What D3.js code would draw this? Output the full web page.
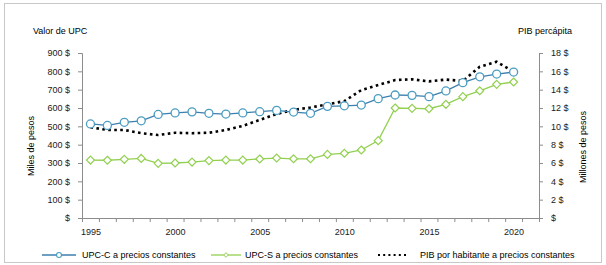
<!DOCTYPE html>
<html>
<head>
<meta charset="utf-8">
<script src="https://cdn.jsdelivr.net/npm/d3@7"></script>
<style>
  body { margin: 0; background: #fff; }
  text { font-family: "Liberation Sans", Arial, sans-serif; }
</style>
</head>
<body>
<div id="chart"></div>
<script>
// data
var years = [1995, 1996, 1997, 1998, 1999, 2000, 2001, 2002, 2003, 2004, 2005, 2006, 2007,
  2008, 2009, 2010, 2011, 2012, 2013, 2014, 2015, 2016, 2017, 2018, 2019, 2020]
var upcC = [513, 505, 522, 530, 565, 573, 579, 571, 567, 573, 580, 587, 578,
  571, 609, 612, 616, 651, 671, 669, 662, 693, 738, 770, 785, 796]
var upcS = [316, 315, 320, 325, 298, 300, 305, 313, 316, 316, 322, 327, 323,
  323, 347, 353, 371, 422, 600, 598, 596, 620, 662, 694, 729, 742]
var pib = [9.9, 9.6, 9.6, 9.25, 9.05, 9.3, 9.25, 9.3, 9.6, 10.05, 10.7, 11.35, 11.8,
  12.05, 12.4, 12.75, 13.95, 14.5, 15.05, 15.13, 14.9, 15.1, 14.95, 16.5, 17.05, 15.95]
var leftTicks = [0, 100, 200, 300, 400, 500, 600, 700, 800, 900]
var rightTicks = [0, 2, 4, 6, 8, 10, 12, 14, 16, 18]
var yearLabels = [1995, 2000, 2005, 2010, 2015, 2020]

var W = 606, H = 265
var margin = {top: 53, right: 67, bottom: 47, left: 82}
var width = W - margin.left - margin.right,
  height = H - margin.top - margin.bottom

var blue = '#3d7fae', blueMark = '#4a9cc0', green = '#92d050', axisCol = '#8c8c8c'

var svg = d3.select('#chart').append('svg')
  .attr('width', W)
  .attr('height', H)

// outer frame
svg.append('rect')
  .attr('x', 4.5).attr('y', 3.5)
  .attr('width', 597).attr('height', 259)
  .attr('fill', 'none')
  .attr('stroke', '#c8c8c8')

var g = svg.append('g')
  .attr('transform', 'translate(' + margin.left + ',' + margin.top + ')')

// x: one slot per year, 1995 to 2021
var x = d3.scaleLinear().domain([1994.5, 2021.5]).range([0, width])
var yL = d3.scaleLinear().domain([0, 900]).range([height, 0])
var yR = d3.scaleLinear().domain([0, 18]).range([height, 0])

function styleAxis(sel) {
  sel.select('.domain').attr('stroke', axisCol)
  sel.selectAll('.tick line').attr('stroke', axisCol)
  sel.selectAll('text').attr('fill', '#1a1a1a').style('font-size', '9px')
}

g.append('g')
  .call(d3.axisLeft(yL).tickValues(leftTicks).tickSize(4).tickPadding(8)
    .tickFormat(function(d) { return (d ? d + ' ' : '') + '$' }))
  .call(styleAxis)

g.append('g')
  .attr('transform', 'translate(' + width + ',0)')
  .call(d3.axisRight(yR).tickValues(rightTicks).tickSize(4).tickPadding(8)
    .tickFormat(function(d) { return (d ? d + ' ' : '') + '$' }))
  .call(styleAxis)

// year boundary ticks
g.append('g')
  .attr('transform', 'translate(0,' + height + ')')
  .call(d3.axisBottom(x).tickValues(d3.range(1994.5, 2022, 1)).tickSize(4).tickFormat(''))
  .call(styleAxis)

// year labels
g.append('g')
  .attr('transform', 'translate(0,' + height + ')')
  .call(d3.axisBottom(x).tickValues(yearLabels).tickSize(0).tickPadding(11).tickFormat(d3.format('d')))
  .call(function(s) { s.select('.domain').remove() })
  .call(styleAxis)

// titles
svg.append('text').attr('x', 33).attr('y', 34).style('font-size', '9px').text('Valor de UPC')
svg.append('text').attr('x', 572).attr('y', 34).attr('text-anchor', 'end')
  .style('font-size', '9px').text('PIB percápita')
svg.append('text')
  .attr('transform', 'translate(34,146)rotate(-90)')
  .attr('text-anchor', 'middle').style('font-size', '9px').text('Miles de pesos')
svg.append('text')
  .attr('transform', 'translate(586,147)rotate(-90)')
  .attr('text-anchor', 'middle').style('font-size', '9px').text('Millones de pesos')

// lines
var lineL = d3.line().x(function(d, i) { return x(years[i]) }).y(function(d) { return yL(d) })
var lineR = d3.line().x(function(d, i) { return x(years[i]) }).y(function(d) { return yR(d) })

g.append('path').datum(pib)
  .attr('fill', 'none').attr('stroke', '#000')
  .attr('stroke-width', 2.6).attr('stroke-dasharray', '2.6,3.4')
  .attr('d', lineR)

g.append('path').datum(upcS)
  .attr('fill', 'none').attr('stroke', green).attr('stroke-width', 1.3)
  .attr('d', lineL)

var diamond = d3.symbol().type(d3.symbolDiamond2).size(40)
g.selectAll('.dS').data(upcS).enter().append('path')
  .attr('transform', function(d, i) { return 'translate(' + x(years[i]) + ',' + yL(d) + ')' })
  .attr('d', diamond)
  .attr('fill', '#fff').attr('stroke', green).attr('stroke-width', 1.2)

g.append('path').datum(upcC)
  .attr('fill', 'none').attr('stroke', blue).attr('stroke-width', 1.3)
  .attr('d', lineL)

g.selectAll('.dC').data(upcC).enter().append('circle')
  .attr('cx', function(d, i) { return x(years[i]) })
  .attr('cy', function(d) { return yL(d) })
  .attr('r', 4)
  .attr('fill', '#fff').attr('stroke', blueMark).attr('stroke-width', 1.3)

// legend
var legY = 255
var leg = svg.append('g')
leg.append('line').attr('x1', 42).attr('x2', 76).attr('y1', legY).attr('y2', legY)
  .attr('stroke', blue).attr('stroke-width', 1.3)
leg.append('circle').attr('cx', 59).attr('cy', legY).attr('r', 2.5)
  .attr('fill', '#fff').attr('stroke', blueMark).attr('stroke-width', 1.1)
leg.append('text').attr('x', 82).attr('y', legY + 3).style('font-size', '9px')
  .text('UPC-C a precios constantes')

leg.append('line').attr('x1', 211).attr('x2', 241).attr('y1', legY).attr('y2', legY)
  .attr('stroke', green).attr('stroke-width', 1.3)
leg.append('path').attr('transform', 'translate(226,' + legY + ')')
  .attr('d', d3.symbol().type(d3.symbolDiamond2).size(14))
  .attr('fill', '#fff').attr('stroke', green).attr('stroke-width', 1)
leg.append('text').attr('x', 245).attr('y', legY + 3).style('font-size', '9px')
  .text('UPC-S a precios constantes')

leg.append('line').attr('x1', 378).attr('x2', 408).attr('y1', legY).attr('y2', legY)
  .attr('stroke', '#000').attr('stroke-width', 2).attr('stroke-dasharray', '2,3.2')
leg.append('text').attr('x', 420).attr('y', legY + 3).style('font-size', '9px')
  .text('PIB por habitante a precios constantes')
</script>
</body>
</html>
